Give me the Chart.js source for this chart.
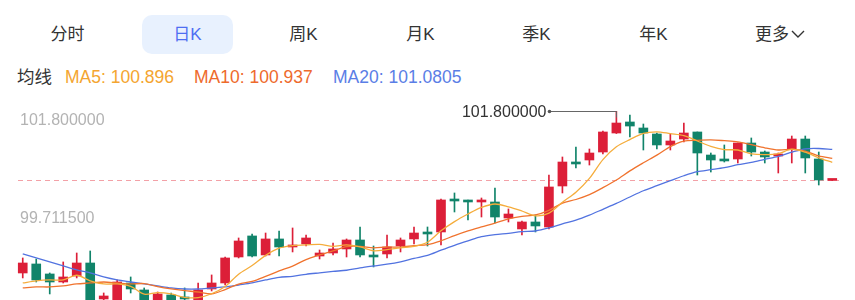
<!DOCTYPE html>
<html>
<head>
<meta charset="utf-8">
<script src="https://cdn.jsdelivr.net/npm/chart.js@4"></script>
<style>
  body { margin: 0; width: 855px; height: 300px; overflow: hidden; background: #fff; position: relative;
         font-family: "Liberation Sans", Arial, "Noto Sans CJK SC", sans-serif; }
  .tab { position: absolute; top: 15px; height: 39px; width: 91px; line-height: 39px; text-align: center;
         font-size: 17px; color: #333; border-radius: 10px; }
  .tab.on { background: #e8f1fe; color: #4e6ef2; }
  .ma { position: absolute; top: 66px; font-size: 17.5px; line-height: 22px; white-space: nowrap; }
  #kline { position: absolute; left: 0; top: 0; }
</style>
</head>
<body>
<div class="tab" style="left:22px">分时</div>
<div class="tab on" style="left:142px">日K</div>
<div class="tab" style="left:258px">周K</div>
<div class="tab" style="left:375px">月K</div>
<div class="tab" style="left:491px">季K</div>
<div class="tab" style="left:608px">年K</div>
<div class="tab" style="left:745px;width:70px;text-align:left;padding-left:10px">更多<svg width="14" height="9" style="margin-left:2px;vertical-align:1px"><polyline points="1,1 7,7 13,1" fill="none" stroke="#333" stroke-width="1.4"/></svg></div>
<div class="ma" style="left:17px;color:#333">均线</div>
<div class="ma" style="left:65px;color:#f4a530">MA5: 100.896</div>
<div class="ma" style="left:194px;color:#ee6a2c">MA10: 100.937</div>
<div class="ma" style="left:333px;color:#5a7ee6">MA20: 101.0805</div>
<canvas id="kline" width="855" height="330"></canvas>
<script>
// daily candles, oldest first
const opens = [98.348, 98.540, 98.327, 98.156, 98.284, 98.561, 97.794, 97.666, 98.135, 97.986,
  97.688, 97.879, 97.837, 97.666, 98.007, 98.135, 98.689, 99.137, 98.732, 99.073,
  98.902, 98.966, 98.710, 98.774, 98.860, 99.051, 98.710, 98.753, 98.923, 99.073,
  99.200, 99.222, 99.904, 99.882, 99.861, 99.861, 99.520, 99.286, 99.435, 99.328,
  100.202, 100.692, 100.756, 100.926, 101.331, 101.566, 101.438, 101.310, 101.076, 101.203,
  101.353, 100.862, 100.756, 100.777, 101.118, 100.926, 100.841, 100.990, 101.203, 100.777,
  100.320];
const highs = [98.668, 98.646, 98.348, 98.583, 98.774, 98.817, 97.922, 98.199, 98.263, 98.029,
  97.943, 97.922, 98.029, 98.135, 98.306, 98.689, 99.094, 99.179, 99.200, 99.243,
  99.307, 99.158, 98.838, 98.987, 99.073, 99.328, 98.923, 99.158, 99.094, 99.328,
  99.328, 99.925, 100.053, 99.904, 99.946, 100.159, 99.712, 99.456, 99.584, 100.436,
  100.820, 101.033, 100.990, 101.374, 101.800, 101.715, 101.523, 101.331, 101.310, 101.544,
  101.353, 100.905, 101.076, 101.118, 101.225, 100.948, 100.905, 101.267, 101.267, 100.926,
  100.340];
const lows = [98.242, 98.156, 97.901, 98.135, 98.242, 97.623, 97.773, 97.640, 97.922, 97.666,
  97.645, 97.645, 97.688, 97.630, 97.965, 98.092, 98.668, 98.689, 98.710, 98.710,
  98.796, 98.923, 98.646, 98.732, 98.689, 98.689, 98.476, 98.668, 98.796, 98.966,
  98.923, 98.945, 99.648, 99.477, 99.541, 99.414, 99.435, 99.158, 99.222, 99.286,
  100.053, 100.585, 100.649, 100.884, 101.320, 101.246, 100.969, 100.990, 100.969, 101.139,
  100.436, 100.500, 100.713, 100.692, 100.841, 100.692, 100.479, 100.692, 100.479, 100.223,
  100.320];
const closes = [98.561, 98.199, 98.156, 98.263, 98.561, 97.730, 97.858, 98.156, 98.007, 97.730,
  97.901, 97.709, 97.794, 97.986, 98.135, 98.668, 99.030, 98.710, 99.073, 98.902,
  98.945, 99.094, 98.774, 98.860, 99.051, 98.732, 98.689, 98.902, 99.051, 99.200,
  99.179, 99.904, 99.882, 99.861, 99.904, 99.541, 99.605, 99.435, 99.350, 100.181,
  100.713, 100.671, 100.905, 101.353, 101.544, 101.480, 101.331, 101.076, 101.161, 101.331,
  100.905, 100.756, 100.735, 101.118, 100.926, 100.820, 100.862, 101.203, 100.799, 100.330,
  100.340];
const ma5 = [98.135, 98.178, 98.199, 98.199, 98.300, 98.182, 98.114, 98.114, 98.062, 97.896,
  97.930, 97.901, 97.828, 97.824, 97.905, 98.058, 98.323, 98.506, 98.723, 98.877,
  98.932, 98.945, 98.958, 98.915, 98.945, 98.902, 98.821, 98.847, 98.885, 98.915,
  99.004, 99.247, 99.443, 99.605, 99.746, 99.818, 99.759, 99.669, 99.567, 99.622,
  99.857, 100.070, 100.364, 100.765, 101.037, 101.191, 101.323, 101.357, 101.318, 101.276,
  101.161, 101.046, 100.978, 100.969, 100.888, 100.871, 100.892, 100.986, 100.922, 100.803,
  100.707];
const ma10 = [98.029, 98.050, 98.050, 98.071, 98.114, 98.135, 98.156, 98.135, 98.114, 98.122,
  98.056, 98.007, 97.971, 97.943, 97.901, 97.994, 98.112, 98.167, 98.274, 98.391,
  98.495, 98.634, 98.732, 98.819, 98.911, 98.917, 98.883, 98.902, 98.900, 98.930,
  98.953, 99.034, 99.145, 99.245, 99.330, 99.411, 99.503, 99.556, 99.586, 99.684,
  99.838, 99.914, 100.017, 100.166, 100.330, 100.524, 100.696, 100.860, 101.042, 101.157,
  101.176, 101.184, 101.167, 101.144, 101.082, 101.016, 100.969, 100.982, 100.946, 100.845,
  100.789];
const ma20 = [98.753, 98.668, 98.583, 98.497, 98.412, 98.348, 98.263, 98.199, 98.156, 98.114,
  98.071, 98.029, 98.007, 98.007, 98.029, 98.050, 98.092, 98.135, 98.199, 98.256,
  98.276, 98.320, 98.351, 98.381, 98.406, 98.456, 98.497, 98.535, 98.587, 98.660,
  98.724, 98.834, 98.938, 99.032, 99.121, 99.164, 99.193, 99.229, 99.243, 99.307,
  99.395, 99.474, 99.581, 99.705, 99.830, 99.968, 100.100, 100.208, 100.314, 100.420,
  100.507, 100.549, 100.592, 100.655, 100.706, 100.770, 100.833, 100.921, 100.994, 101.001,
  100.982];
const axisTicks = [101.8, 99.7115];
const axisTickText = ['101.800000', '99.711500'];
const yMin = 97.623, yMax = 101.8;

const UP = '#dc1f38', DOWN = '#11846a';
const labels = closes.map((_, i) => String(i + 1));
const candleColor = c => closes[c.dataIndex] >= opens[c.dataIndex] ? UP : DOWN;
const FONT = '16px "Liberation Sans", Arial, sans-serif';

const overlay = {
  id: 'overlay',
  beforeDatasetsDraw(chart) {
    const { ctx, chartArea: a, scales: { y } } = chart;
    const py = Math.round(y.getPixelForValue(closes[closes.length - 1])) + 0.5;
    ctx.save();
    ctx.strokeStyle = 'rgba(236,110,120,0.65)';
    ctx.lineWidth = 1;
    ctx.setLineDash([5, 4]);
    ctx.beginPath();
    ctx.moveTo(a.left + 2, py);
    ctx.lineTo(a.right, py);
    ctx.stroke();
    ctx.restore();
  },
  afterDraw(chart) {
    const { ctx, chartArea: a, scales: { x, y } } = chart;
    ctx.save();
    ctx.font = FONT;
    ctx.textBaseline = 'middle';
    ctx.fillStyle = '#b3b3b3';
    axisTicks.forEach((v, i) => ctx.fillText(axisTickText[i], a.left + 4, y.getPixelForValue(v) + 10));
    // marker for the highest price
    const hi = highs.indexOf(Math.max(...highs));
    const hx = Math.round(x.getPixelForValue(hi)) + 0.5;
    const hy = Math.round(y.getPixelForValue(highs[hi])) + 0.5;
    ctx.strokeStyle = '#666';
    ctx.lineWidth = 1;
    ctx.beginPath();
    ctx.moveTo(hx - 67, hy);
    ctx.lineTo(hx, hy);
    ctx.lineTo(hx, hy + 6);
    ctx.stroke();
    ctx.fillStyle = '#555';
    ctx.beginPath();
    ctx.arc(hx - 67, hy, 1.8, 0, Math.PI * 2);
    ctx.fill();
    ctx.fillStyle = '#333';
    ctx.textAlign = 'right';
    ctx.fillText(highs[hi].toFixed(6), hx - 70, hy + 1);
    ctx.restore();
  }
};

const line = (data, color) => ({
  type: 'line', data, borderColor: color, borderWidth: 1.3, pointRadius: 0,
  tension: 0.3, order: 0
});

new Chart(document.getElementById('kline'), {
  type: 'bar',
  data: {
    labels,
    datasets: [
      line(ma5, '#f5ad3c'),
      line(ma10, '#f0732e'),
      line(ma20, '#5273e0'),
      { data: opens.map((o, i) => [o, closes[i]]), backgroundColor: candleColor,
        barThickness: 9, minBarLength: 2, grouped: false, order: 1 },
      { data: lows.map((l, i) => [l, highs[i]]), backgroundColor: candleColor,
        barThickness: 1, grouped: false, order: 2 }
    ]
  },
  options: {
    responsive: false,
    animation: false,
    layout: { padding: { left: 16, right: 16, top: 111, bottom: 23 } },
    plugins: { legend: { display: false }, tooltip: { enabled: false } },
    scales: {
      x: { display: false, offset: true },
      y: { display: false, min: yMin, max: yMax }
    }
  },
  plugins: [overlay]
});
</script>
</body>
</html>
